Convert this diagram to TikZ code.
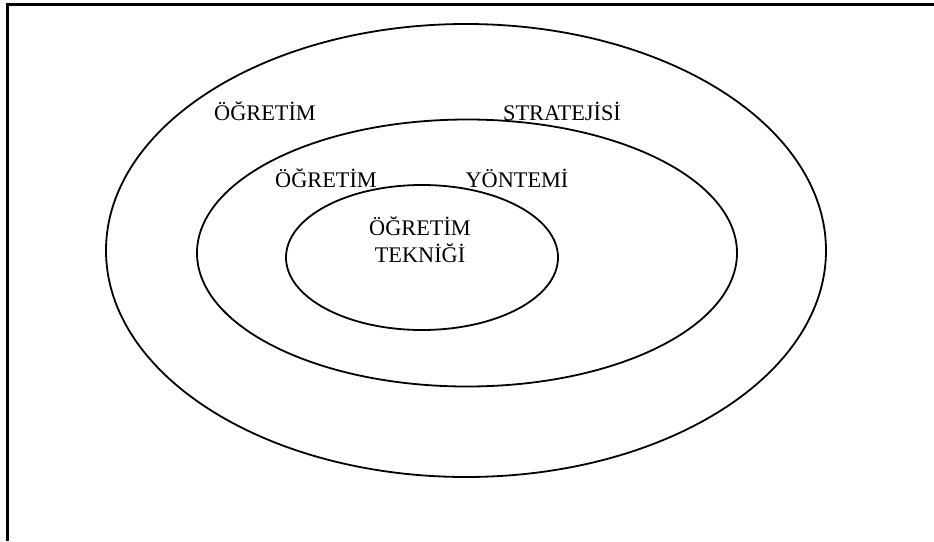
\documentclass[tikz,border=0pt]{standalone}
\usepackage{fontspec}
\setmainfont{Liberation Serif}
\begin{document}
\begin{tikzpicture}[x=1pt,y=-1pt,
  ring/.style={draw=black,line width=1.8pt},
  lbl/.style={font=\fontsize{22.3}{25}\selectfont,inner sep=0pt,anchor=base}]
\useasboundingbox (0,0) rectangle (934,541);
% frame: top and left edges
\draw[line width=3pt] (934,4) -- (7.5,4) -- (7.5,541);
% nested ellipses
\draw[ring] (466,250.5) ellipse [x radius=360,y radius=226.5];
\draw[ring] (467,253) ellipse [x radius=270,y radius=133.5];
\draw[ring] (422,257.5) ellipse [x radius=136,y radius=72.5];
% labels (placed by baseline)
\node[lbl] (s1) at (265,120) {ÖĞRETİM};
\node[lbl] (s2) at (562,120) {STRATEJİSİ};
\node[lbl] (y1) at (326,187) {ÖĞRETİM};
\node[lbl] (y2) at (517,187) {YÖNTEMİ};
\node[lbl] (t1) at (420,235) {ÖĞRETİM};
\node[lbl] (t2) at (420,262) {TEKNİĞİ};
\end{tikzpicture}
\end{document}
